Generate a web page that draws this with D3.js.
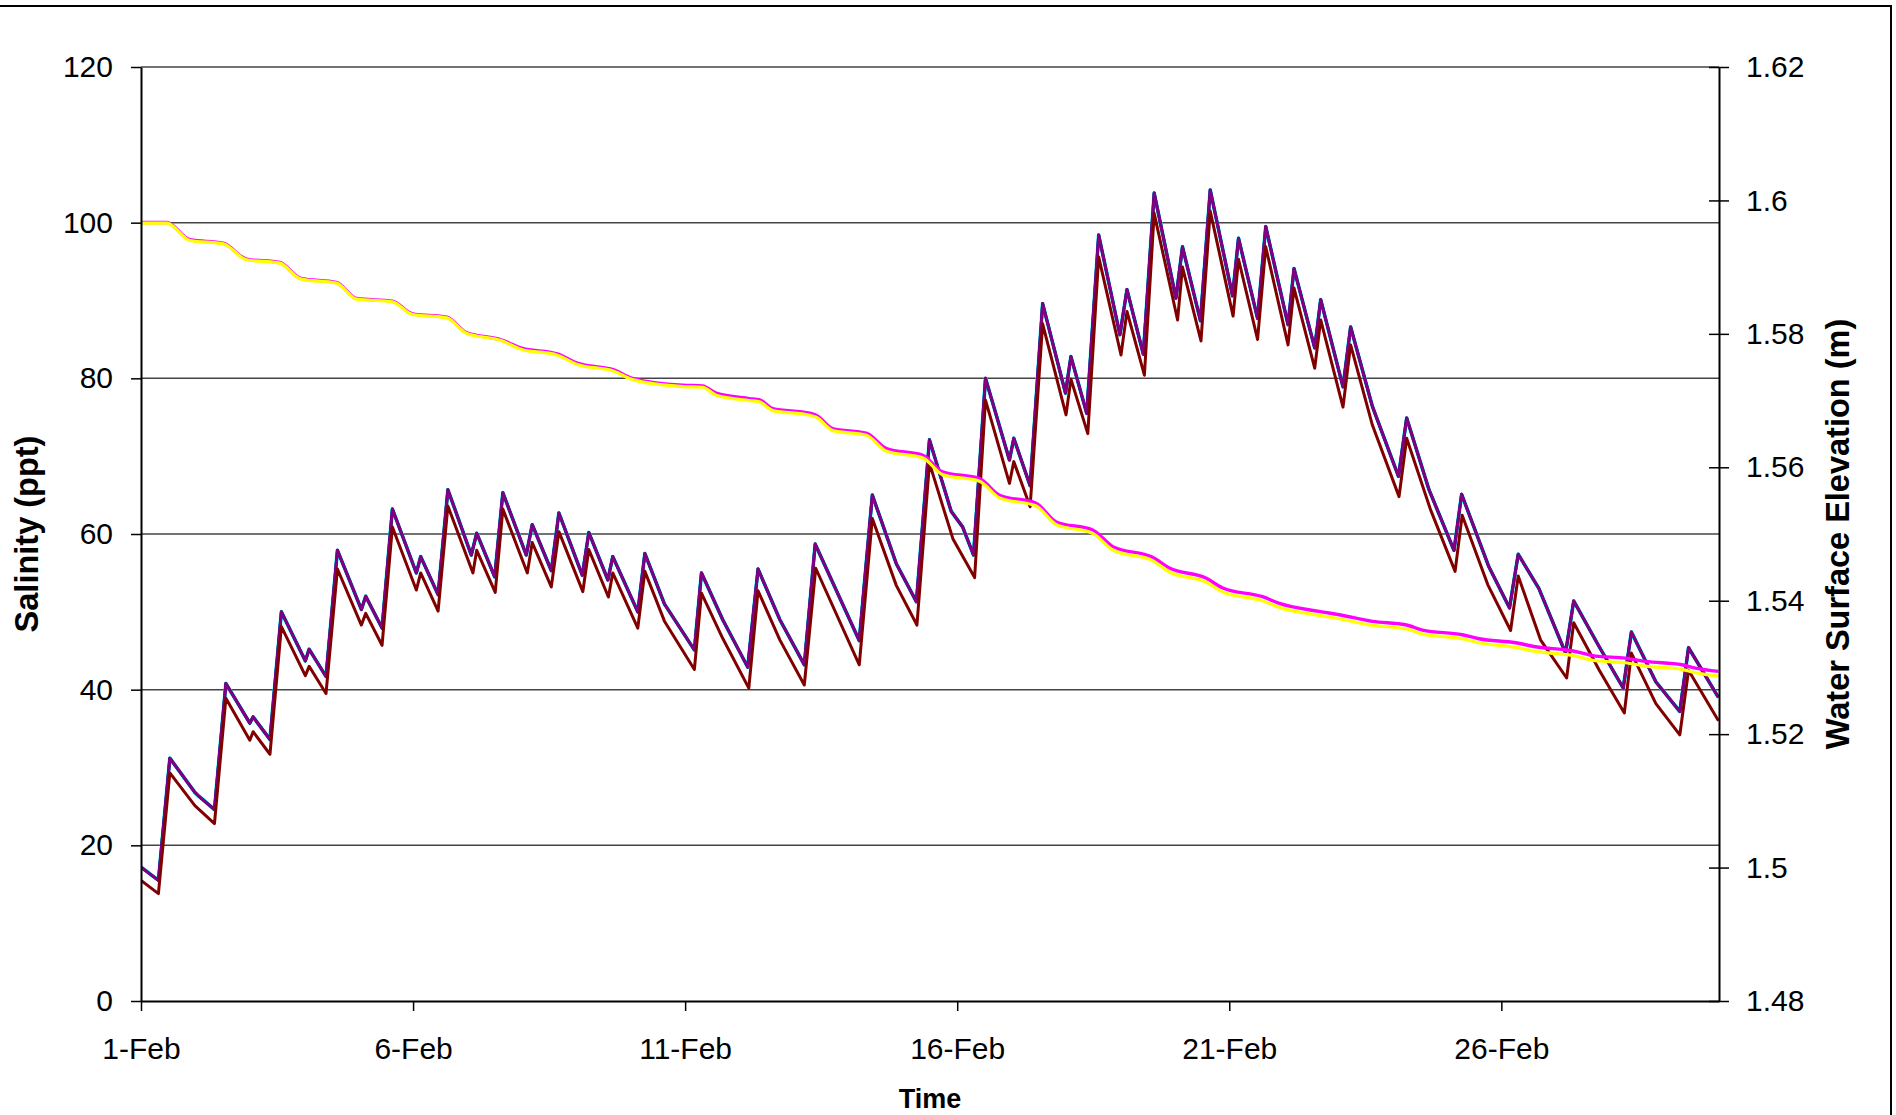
<!DOCTYPE html>
<html>
<head>
<meta charset="utf-8">
<script src="https://cdn.jsdelivr.net/npm/d3@7"></script>
<style>
  body { margin: 0; background: #fff; }
  svg text { font-family: "Liberation Sans", Arial, sans-serif; }
</style>
</head>
<body>
<svg id="chart"></svg>
<script>
/**
 * Data: [day since 1-Feb, value]
 */
var salinityUpper = [
  [0,17.2],[0.32,15.5],[0.53,31.2],[0.99,26.8],[1.05,26.4],[1.35,24.6],[1.56,40.8],[2.0,35.7],[2.06,36.5],[2.37,33.6],
  [2.58,50.0],[3.02,43.7],[3.09,45.2],[3.40,41.7],[3.61,57.9],[4.05,50.3],[4.13,52.0],[4.43,47.9],[4.62,63.2],[5.06,55.0],
  [5.14,57.1],[5.46,52.2],[5.64,65.7],[6.07,57.3],[6.17,60.1],[6.50,54.5],[6.65,65.3],[7.08,57.3],[7.19,61.2],[7.54,55.3],
  [7.68,62.7],[8.11,54.7],[8.23,60.2],[8.58,54.1],[8.67,57.1],[9.13,50.0],[9.26,57.5],[9.62,51.0],[10.17,45.1],[10.30,55.0],
  [10.69,49.0],[11.15,42.9],[11.34,55.5],[11.74,49.0],[12.19,43.2],[12.39,58.7],[13.2,46.3],[13.44,65.0],[13.88,56.2],[14.25,51.3],
  [14.49,72.1],[14.89,62.9],[15.10,60.9],[15.30,57.3],[15.52,80.0],[15.96,69.5],[16.04,72.3],[16.34,66.2],[16.57,89.6],[16.99,78.1],
  [17.09,82.8],[17.38,75.5],[17.60,98.4],[17.99,85.6],[18.12,91.4],[18.42,83.1],[18.62,103.8],[19.02,90.3],[19.14,96.9],[19.47,87.4],
  [19.65,104.2],[20.06,90.6],[20.17,98.0],[20.52,87.7],[20.67,99.5],[21.08,86.9],[21.19,94.1],[21.57,83.9],[21.68,90.1],[22.09,78.9],
  [22.23,86.6],[22.63,76.4],[23.11,67.4],[23.26,74.9],[23.67,65.7],[24.13,57.9],[24.27,65.1],[24.77,55.8],[25.15,50.5],[25.31,57.4],
  [25.69,53.0],[26.18,44.7],[26.33,51.4],[26.8,45.5],[27.24,40.2],[27.39,47.4],[27.84,41.0],[28.28,37.2],[28.44,45.4],[28.99,39.0]
];

var salinityLower = [
  [0,15.5],[0.32,13.8],[0.53,29.3],[0.99,25.1],[1.35,22.8],[1.56,38.9],[2.0,33.5],[2.06,34.6],[2.37,31.7],[2.58,48.1],
  [3.02,41.8],[3.09,43.0],[3.40,39.5],[3.61,55.5],[4.05,48.3],[4.13,49.8],[4.43,45.7],[4.62,60.9],[5.06,52.8],[5.14,55.0],
  [5.46,50.1],[5.64,63.6],[6.10,55.0],[6.17,57.9],[6.51,52.5],[6.65,63.2],[7.10,55.0],[7.19,58.9],[7.54,53.2],[7.68,60.3],
  [8.12,52.6],[8.23,58.0],[8.59,51.9],[8.67,55.0],[9.13,47.9],[9.26,55.2],[9.62,48.8],[10.17,42.6],[10.30,52.4],[10.69,46.6],
  [11.17,40.2],[11.34,52.7],[11.74,46.4],[12.19,40.6],[12.40,55.6],[13.2,43.2],[13.44,62.0],[13.88,53.4],[14.26,48.3],[14.49,69.1],
  [14.92,59.4],[15.32,54.4],[15.52,77.2],[15.96,66.5],[16.04,69.3],[16.34,63.5],[16.57,87.0],[17.0,75.3],[17.09,79.9],[17.4,72.9],
  [17.60,95.6],[18.01,83.0],[18.12,88.6],[18.44,80.4],[18.62,101.2],[19.05,87.5],[19.14,94.3],[19.48,84.8],[19.65,101.5],[20.07,88.0],
  [20.17,95.3],[20.52,85.0],[20.67,96.9],[21.08,84.3],[21.19,91.6],[21.57,81.3],[21.68,87.5],[22.09,76.3],[22.23,84.3],[22.63,74.0],
  [23.12,64.8],[23.26,72.3],[23.7,63.1],[24.15,55.2],[24.28,62.4],[24.75,53.5],[25.17,47.6],[25.31,54.6],[25.72,46.4],[26.2,41.5],
  [26.33,48.6],[26.8,42.5],[27.26,37.0],[27.39,44.7],[27.84,38.2],[28.28,34.2],[28.44,42.5],[28.99,36.0]
];

var elevationA = [
  [0,1.5967],[0.47,1.5967],[0.90,1.5941],[1.51,1.5936],[1.94,1.5912],[2.55,1.5907],[2.94,1.5883],[3.59,1.5877],[3.96,1.5853],[4.62,1.5849],
  [4.99,1.5830],[5.62,1.5825],[5.98,1.5802],[6.62,1.5791],[6.98,1.5779],[7.65,1.5770],[8.02,1.5756],[8.69,1.5746],[9.05,1.5733],[9.95,1.5723],
  [10.32,1.5722],[10.57,1.5711],[11.18,1.5703],[11.37,1.5701],[11.61,1.5688],[12.29,1.5681],[12.41,1.5678],[12.71,1.5658],[13.33,1.5651],[13.70,1.5628],
  [14.37,1.5618],[14.73,1.5593],[15.41,1.5583],[15.78,1.5558],[16.45,1.5546],[16.82,1.5518],[17.49,1.5506],[17.86,1.5481],[18.59,1.5465],[18.90,1.5449],
  [19.57,1.5434],[19.88,1.5419],[20.61,1.5406],[20.92,1.5396],[21.65,1.5384],[22.02,1.5379],[22.63,1.5369],[23.24,1.5364],[23.55,1.5356],[24.28,1.5349],
  [24.59,1.5343],[25.26,1.5337],[25.63,1.5331],[26.30,1.5325],[26.73,1.5317],[27.28,1.5314],[27.65,1.5309],[28.32,1.5304],[28.57,1.5299],[28.99,1.5294]
];

var elevationB = [
  [0,1.5966],[0.47,1.5966],[0.90,1.5940],[1.51,1.5935],[1.94,1.5911],[2.55,1.5906],[2.94,1.5882],[3.59,1.5876],[3.96,1.5852],[4.62,1.5848],
  [4.99,1.5829],[5.62,1.5824],[5.98,1.5801],[6.62,1.5790],[6.98,1.5777],[7.65,1.5768],[8.02,1.5754],[8.69,1.5744],[9.05,1.5731],[9.95,1.5721],
  [10.32,1.5720],[10.57,1.5708],[11.18,1.5700],[11.37,1.5698],[11.61,1.5685],[12.29,1.5678],[12.41,1.5675],[12.71,1.5655],[13.33,1.5648],[13.70,1.5624],
  [14.37,1.5614],[14.73,1.5589],[15.41,1.5579],[15.78,1.5554],[16.45,1.5542],[16.82,1.5514],[17.49,1.5501],[17.86,1.5476],[18.59,1.5460],[18.90,1.5443],
  [19.57,1.5428],[19.88,1.5413],[20.61,1.5400],[20.92,1.5390],[21.65,1.5378],[22.02,1.5373],[22.63,1.5363],[23.24,1.5358],[23.55,1.5350],[24.28,1.5343],
  [24.59,1.5337],[25.26,1.5330],[25.63,1.5324],[26.30,1.5318],[26.73,1.5310],[27.28,1.5307],[27.65,1.5302],[28.32,1.5297],[28.57,1.5292],[28.99,1.5287]
];

var xTickDays = [0, 5, 10, 15, 20, 25];
var leftTicks = [0, 20, 40, 60, 80, 100, 120];
var rightTicks = [1.48, 1.5, 1.52, 1.54, 1.56, 1.58, 1.6, 1.62];

/**
 * Layout
 */
var W = 1896, H = 1115;
var margin = {top: 67, right: 177, bottom: 114, left: 141};
var pw = W - margin.left - margin.right;
var ph = H - margin.top - margin.bottom;
var start = new Date(2004, 1, 1);

function toDate(day) {
    return new Date(start.getTime() + day * 864e5);
}

var svg = d3.select("#chart").attr("width", W).attr("height", H);

// outer chart border (left and bottom edges sit off-page)
svg.append("rect")
    .attr("x", -2).attr("y", 6)
    .attr("width", 1893).attr("height", H + 20)
    .attr("fill", "#fff")
    .attr("stroke", "#000")
    .attr("stroke-width", 2);

var g = svg.append("g").attr("transform", "translate(" + margin.left + "," + margin.top + ")");

var x = d3.scaleTime().domain([start, toDate(29)]).range([0, pw]);
var yL = d3.scaleLinear().domain([0, 120]).range([ph, 0]);
var yR = d3.scaleLinear().domain([1.48, 1.62]).range([ph, 0]);

// gridlines
g.append("g").selectAll("line")
    .data(leftTicks.slice(1))
    .enter().append("line")
    .attr("x1", 0).attr("x2", pw)
    .attr("y1", function(d){ return yL(d); })
    .attr("y2", function(d){ return yL(d); })
    .attr("stroke", "#444")
    .attr("stroke-width", 1.5);

// data lines
g.append("clipPath").attr("id", "clip")
    .append("rect").attr("width", pw).attr("height", ph);

var lines = g.append("g").attr("clip-path", "url(#clip)");

var salLine = d3.line()
    .x(function(d){ return x(toDate(d[0])); })
    .y(function(d){ return yL(d[1]); });

var elevLine = d3.line()
    .x(function(d){ return x(toDate(d[0])); })
    .y(function(d){ return yR(d[1]); })
    .curve(d3.curveMonotoneX);

var series = [
    {data: salinityUpper, line: salLine, color: "#00FFFF", w: 3.8},
    {data: salinityUpper, line: salLine, color: "#000080", w: 3},
    {data: salinityUpper, line: salLine, color: "#800080", w: 3},
    {data: salinityLower, line: salLine, color: "#800000", w: 3},
    {data: elevationA, line: elevLine, color: "#FF00FF", w: 3.4},
    {data: elevationB, line: elevLine, color: "#FFFF00", w: 3.2}
];

series.forEach(function(s){
    lines.append("path")
        .datum(s.data)
        .attr("d", s.line)
        .attr("fill", "none")
        .attr("stroke", s.color)
        .attr("stroke-width", s.w)
        .attr("stroke-linejoin", "round");
});

// axes
var fontSize = 30;

var xAxis = g.append("g")
    .attr("transform", "translate(0," + ph + ")")
    .call(d3.axisBottom(x)
        .tickValues(xTickDays.map(toDate))
        .tickFormat(d3.timeFormat("%-d-%b"))
        .tickSize(10)
        .tickSizeOuter(0)
        .tickPadding(27));

var leftAxis = g.append("g")
    .call(d3.axisLeft(yL)
        .tickValues(leftTicks)
        .tickSize(10)
        .tickSizeOuter(0)
        .tickPadding(18));

var rightAxis = g.append("g")
    .attr("transform", "translate(" + pw + ",0)")
    .call(d3.axisRight(yR)
        .tickValues(rightTicks)
        .tickFormat(function(d){ return String(d); })
        .tickSize(10)
        .tickSizeOuter(0)
        .tickPadding(17));

// right ticks cross the axis line
rightAxis.selectAll(".tick line").attr("x1", -10).attr("x2", 10);

[xAxis, leftAxis, rightAxis].forEach(function(a){
    a.select(".domain").attr("stroke", "#000").attr("stroke-width", 2);
    a.selectAll(".tick line").attr("stroke", "#000").attr("stroke-width", 1.5);
    a.selectAll("text")
        .attr("fill", "#000")
        .style("font-size", fontSize + "px")
        .style("font-family", "'Liberation Sans', Arial, sans-serif");
});

// axis titles
svg.append("text")
    .attr("transform", "translate(27," + (margin.top + ph / 2) + ") rotate(-90)")
    .attr("text-anchor", "middle")
    .attr("dominant-baseline", "central")
    .style("font-size", "32.5px")
    .style("font-weight", "bold")
    .text("Salinity (ppt)");

svg.append("text")
    .attr("transform", "translate(1838," + (margin.top + ph / 2) + ") rotate(-90)")
    .attr("text-anchor", "middle")
    .attr("dominant-baseline", "central")
    .style("font-size", "32.5px")
    .style("font-weight", "bold")
    .text("Water Surface Elevation (m)");

svg.append("text")
    .attr("x", margin.left + pw / 2)
    .attr("y", 1108)
    .attr("text-anchor", "middle")
    .style("font-size", "27px")
    .style("font-weight", "bold")
    .text("Time");
</script>
</body>
</html>
